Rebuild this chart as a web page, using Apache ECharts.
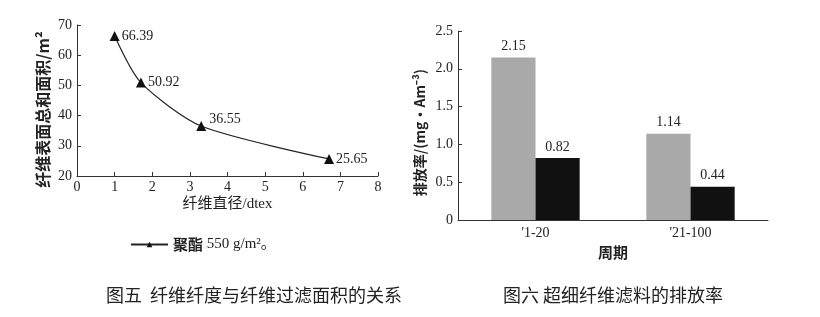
<!DOCTYPE html>
<html><head><meta charset="utf-8">
<script src="https://cdn.jsdelivr.net/npm/echarts@6/dist/echarts.min.js"></script>
<style>html,body{margin:0;padding:0;background:#fff}#c{width:820px;height:317px}</style>
</head><body><div id="c"></div>
<script>
// Left chart data
const fiberDiameter = [1, 1.7, 3.3, 6.7];
const surfaceArea = [66.39, 50.92, 36.55, 25.65];
// Right chart data
const periods = ["'1-20", "'21-100"];
const emissionGray = [2.15, 1.14];
const emissionBlack = [0.82, 0.44];

const serif = '"Liberation Serif", "Noto Sans CJK SC", serif';
const cjk = '"Noto Sans CJK SC", sans-serif';
const txt = '#222';
const legendName = '聚酯 550 g/m²。';

const chart = echarts.init(document.getElementById('c'));
const lineData = fiberDiameter.map((x, i) => ({
  value: [x, surfaceArea[i]],
  label: i === 2 ? {position: 'right', offset: [-2, -7]} : {position: 'right', offset: [-3, 0]}
}));
chart.setOption({
  animation: false,
  textStyle: {fontFamily: serif, color: txt},
  title: [
    {text: '图五  纤维纤度与纤维过滤面积的关系', left: 106, top: 286, padding: 0, textStyle: {fontFamily: cjk, fontSize: 18, fontWeight: 'normal', color: '#222'}},
    {text: '图六 超细纤维滤料的排放率', left: 503, top: 286, padding: 0, textStyle: {fontFamily: cjk, fontSize: 18, fontWeight: 'normal', color: '#222'}}
  ],
  legend: {
    data: [{name: legendName}],
    left: 130, top: 237, padding: 0, itemWidth: 37, itemHeight: 7, itemGap: 4,
    formatter: () => '{c|聚酯} {s|550 g/m²。}',
    textStyle: {fontFamily: serif, fontSize: 15, color: txt,
      rich: {c: {fontFamily: cjk, fontSize: 15, fontWeight: 'bold', color: txt},
             s: {fontFamily: serif, fontSize: 15, color: txt}}}
  },
  grid: [
    {left: 77, top: 25, width: 301, height: 151},
    {left: 458, top: 31, width: 310, height: 189}
  ],
  xAxis: [
    {gridIndex: 0, type: 'value', min: 0, max: 8, interval: 1,
     name: '纤维直径/dtex', nameLocation: 'middle', nameGap: 21,
     nameTextStyle: {fontFamily: serif, fontSize: 15, color: txt},
     axisLine: {lineStyle: {color: '#333', width: 1}},
     axisTick: {inside: true, length: 4, lineStyle: {color: '#333'}},
     axisLabel: {fontSize: 14, color: txt, margin: 4},
     splitLine: {show: false}},
    {gridIndex: 1, type: 'category', data: periods,
     name: '周期', nameLocation: 'middle', nameGap: 22,
     nameTextStyle: {fontFamily: cjk, fontSize: 15, color: txt, fontWeight: 'bold'},
     axisLine: {lineStyle: {color: '#333', width: 1}},
     axisTick: {inside: true, length: 4, lineStyle: {color: '#333'}},
     axisLabel: {fontSize: 14, color: txt, margin: 6}}
  ],
  yAxis: [
    {gridIndex: 0, type: 'value', min: 20, max: 70, interval: 10,
     name: '纤维表面总和面积/m²', nameLocation: 'middle', nameGap: 26, nameRotate: 90,
     nameTextStyle: {fontFamily: cjk, fontSize: 16, color: txt, fontWeight: 'bold', padding: [0, 18, 0, 0]},
     axisLine: {show: true, lineStyle: {color: '#333', width: 1}},
     axisTick: {show: true, inside: true, length: 4, lineStyle: {color: '#333'}},
     axisLabel: {fontSize: 14, color: txt, margin: 5},
     splitLine: {show: false}},
    {gridIndex: 1, type: 'value', min: 0, max: 2.5, interval: 0.5,
     name: '排放率/(mg·Am⁻³)', nameLocation: 'middle', nameGap: 31, nameRotate: 90,
     nameTextStyle: {fontFamily: cjk, fontSize: 14, color: txt, fontWeight: 'bold', padding: [0, 14, 0, 0]},
     axisLine: {show: true, lineStyle: {color: '#333', width: 1}},
     axisTick: {show: true, inside: true, length: 4, lineStyle: {color: '#333'}},
     axisLabel: {fontSize: 14, color: txt, margin: 5, formatter: v => v === 0 ? '0' : v.toFixed(1)},
     splitLine: {show: false}}
  ],
  series: [
    {name: legendName, type: 'line', xAxisIndex: 0, yAxisIndex: 0,
     data: lineData, smooth: 0.25, symbol: 'triangle', symbolSize: 10,
     lineStyle: {color: '#222', width: 1.2}, itemStyle: {color: '#111'},
     label: {show: true, fontSize: 14, color: txt, fontFamily: serif, formatter: p => p.value[1].toFixed(2)}},
    {type: 'bar', xAxisIndex: 1, yAxisIndex: 1, data: emissionGray,
     barGap: '0%', barCategoryGap: '43%',
     itemStyle: {color: '#a9a9a9'},
     label: {show: true, position: 'top', fontSize: 14, color: txt, fontFamily: serif, formatter: p => p.value.toFixed(2), distance: 4}},
    {type: 'bar', xAxisIndex: 1, yAxisIndex: 1, data: emissionBlack,
     barGap: '0%', barCategoryGap: '43%',
     itemStyle: {color: '#111'},
     label: {show: true, position: 'top', fontSize: 14, color: txt, fontFamily: serif, formatter: p => p.value.toFixed(2), distance: 4}}
  ]
});
</script></body></html>
